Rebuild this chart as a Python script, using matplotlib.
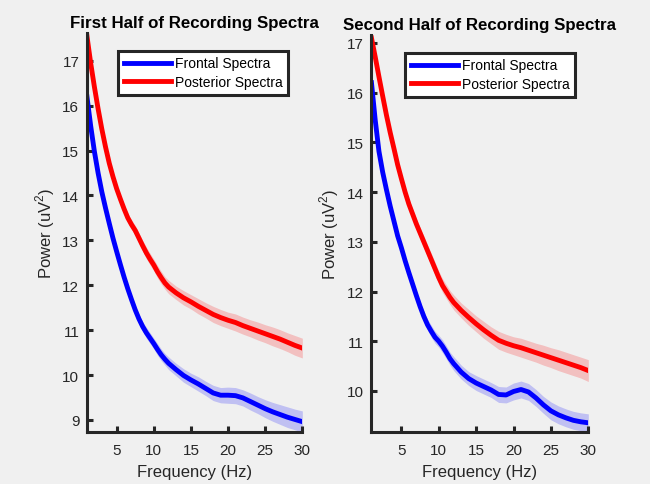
import numpy as np
import matplotlib
matplotlib.use('Agg')
import matplotlib.pyplot as plt

plt.rcParams['font.family'] = ['Liberation Sans', 'DejaVu Sans']
plt.rcParams['mathtext.fontset'] = 'custom'
plt.rcParams['mathtext.rm'] = 'Liberation Sans'

# frequency axis (Hz): 0.5 Hz steps up to 12 Hz, then 1 Hz steps
freqs = [1, 1.5, 2, 2.5, 3, 3.5, 4, 4.5, 5, 5.5, 6, 6.5, 7, 7.5, 8, 8.5, 9, 9.5, 10, 10.5, 11, 11.5, 12,
         13, 14, 15, 16, 17, 18, 19, 20, 21, 22, 23, 24, 25, 26, 27, 28, 29, 30]

# first half of recording
first_frontal = [16.20, 15.55, 14.98, 14.50, 14.08, 13.72, 13.38, 13.05, 12.75, 12.46, 12.18, 11.92,
                 11.68, 11.45, 11.25, 11.08, 10.94, 10.82, 10.70, 10.57, 10.45, 10.35, 10.26,
                 10.12, 9.99, 9.89, 9.80, 9.70, 9.60, 9.55, 9.55, 9.54, 9.49, 9.41, 9.33, 9.25,
                 9.18, 9.12, 9.06, 9.01, 8.96]
first_posterior = [17.55, 16.95, 16.42, 15.93, 15.48, 15.08, 14.72, 14.42, 14.15, 13.92, 13.70, 13.50,
                   13.35, 13.22, 13.05, 12.88, 12.72, 12.58, 12.45, 12.30, 12.17, 12.05, 11.96,
                   11.83, 11.72, 11.63, 11.53, 11.44, 11.35, 11.28, 11.22, 11.17, 11.10, 11.04,
                   10.98, 10.92, 10.86, 10.80, 10.73, 10.66, 10.60]
first_frontal_sem = [0.04, 0.04, 0.05, 0.05, 0.06, 0.06, 0.07, 0.07, 0.08, 0.08, 0.09, 0.09,
                     0.10, 0.10, 0.11, 0.11, 0.12, 0.12, 0.12, 0.13, 0.13, 0.13, 0.14,
                     0.14, 0.15, 0.15, 0.16, 0.16, 0.17, 0.17, 0.18, 0.18, 0.18, 0.19, 0.19, 0.20,
                     0.21, 0.22, 0.23, 0.23, 0.24]
first_posterior_sem = [0.05, 0.05, 0.06, 0.06, 0.07, 0.07, 0.08, 0.08, 0.09, 0.09, 0.10, 0.10,
                       0.11, 0.11, 0.12, 0.12, 0.13, 0.13, 0.13, 0.14, 0.14, 0.14, 0.15,
                       0.15, 0.16, 0.16, 0.17, 0.17, 0.18, 0.18, 0.18, 0.19, 0.19, 0.19, 0.20,
                       0.20, 0.21, 0.21, 0.21, 0.22, 0.22]

# second half of recording
second_frontal = [16.20, 15.45, 14.82, 14.40, 14.05, 13.72, 13.42, 13.12, 12.88, 12.62, 12.38, 12.15,
                  11.92, 11.70, 11.50, 11.33, 11.20, 11.08, 11.00, 10.90, 10.78, 10.65, 10.55,
                  10.38, 10.25, 10.16, 10.09, 10.02, 9.93, 9.92, 9.99, 10.03, 9.98, 9.86, 9.72,
                  9.60, 9.52, 9.46, 9.41, 9.38, 9.36]
second_posterior = [17.10, 16.72, 16.32, 15.93, 15.55, 15.20, 14.88, 14.55, 14.27, 14.00, 13.76, 13.56,
                    13.36, 13.18, 13.00, 12.82, 12.64, 12.46, 12.28, 12.12, 12.00, 11.88, 11.78,
                    11.62, 11.48, 11.35, 11.23, 11.12, 11.02, 10.96, 10.91, 10.87, 10.82, 10.77,
                    10.72, 10.67, 10.62, 10.57, 10.52, 10.47, 10.41]
second_frontal_sem = [0.04, 0.04, 0.05, 0.05, 0.06, 0.06, 0.07, 0.07, 0.08, 0.08, 0.09, 0.09,
                      0.10, 0.10, 0.11, 0.11, 0.12, 0.12, 0.12, 0.13, 0.13, 0.13, 0.14,
                      0.14, 0.14, 0.15, 0.15, 0.15, 0.16, 0.16, 0.17, 0.17, 0.17, 0.17, 0.17,
                      0.18, 0.18, 0.18, 0.18, 0.18, 0.18]
second_posterior_sem = [0.05, 0.05, 0.06, 0.06, 0.07, 0.07, 0.08, 0.08, 0.09, 0.09, 0.10, 0.10,
                        0.11, 0.11, 0.12, 0.12, 0.13, 0.13, 0.13, 0.14, 0.14, 0.14, 0.15,
                        0.15, 0.16, 0.16, 0.17, 0.17, 0.18, 0.18, 0.18, 0.19, 0.19, 0.19, 0.20,
                        0.20, 0.21, 0.21, 0.21, 0.21, 0.22]

titles = ['First Half of Recording Spectra', 'Second Half of Recording Spectra']
labels = ['Frontal Spectra', 'Posterior Spectra']
xticks = [5, 10, 15, 20, 25, 30]
yticks_first = [9, 10, 11, 12, 13, 14, 15, 16, 17]
yticks_second = [10, 11, 12, 13, 14, 15, 16, 17]

bg = (0.94, 0.94, 0.94)
dark = (0.15, 0.15, 0.15)

fig = plt.figure(figsize=(6.5, 4.85), dpi=100, facecolor=bg)
ax1 = fig.add_axes([0.1338, 0.1072, 0.3313, 0.8227])
ax2 = fig.add_axes([0.5715, 0.1072, 0.3336, 0.8186])

panels = [
    (ax1, first_frontal, first_frontal_sem, first_posterior, first_posterior_sem,
     titles[0], yticks_first, (8.73, 17.62), (0.1815, 0.893)),
    (ax2, second_frontal, second_frontal_sem, second_posterior, second_posterior_sem,
     titles[1], yticks_second, (9.175, 17.16), (0.623, 0.889)),
]

x = np.array(freqs)
for ax, fr, fr_sem, po, po_sem, title, yt, ylim, leg_pos in panels:
    ax.set_facecolor(bg)
    fr, fr_sem = np.array(fr), np.array(fr_sem)
    po, po_sem = np.array(po), np.array(po_sem)
    ax.fill_between(x, fr - fr_sem, fr + fr_sem, color='blue', alpha=0.2, lw=0)
    ax.fill_between(x, po - po_sem, po + po_sem, color='red', alpha=0.2, lw=0)
    ax.plot(x, fr, color='blue', lw=3.5, label=labels[0], solid_joinstyle='round')
    ax.plot(x, po, color='red', lw=3.5, label=labels[1], solid_joinstyle='round')

    ax.set_xlim(1, 30)
    ax.set_ylim(*ylim)
    ax.set_xticks(xticks)
    ax.set_yticks(yt)
    for s in ['top', 'right']:
        ax.spines[s].set_visible(False)
    for s in ['left', 'bottom']:
        ax.spines[s].set_color(dark)
        ax.spines[s].set_linewidth(2.2)
    ax.tick_params(direction='in', length=4, width=2.2, colors=dark,
                   labelsize=11, labelcolor=dark)
    ax.tick_params(axis='y', pad=5.5)
    ax.tick_params(axis='x', pad=8)

    ax.set_title(title, fontsize=12.2, fontweight='bold', pad=4)
    ax.set_xlabel('Frequency (Hz)', fontsize=12, color=dark, labelpad=5)
    ax.set_ylabel('Power (uV$^2$)', fontsize=12, color=dark, labelpad=4)

    leg = ax.legend(loc='upper left', bbox_to_anchor=leg_pos,
                    bbox_transform=fig.transFigure, fontsize=10,
                    fancybox=False, framealpha=1, facecolor='white',
                    edgecolor=dark, handlelength=3.4, handletextpad=0.3,
                    labelspacing=0.35, borderpad=0.4, borderaxespad=0)
    leg.get_frame().set_linewidth(2.2)
    for line in leg.get_lines():
        line.set_linewidth(3.5)

fig.savefig('out.png', dpi=100, facecolor=bg)
